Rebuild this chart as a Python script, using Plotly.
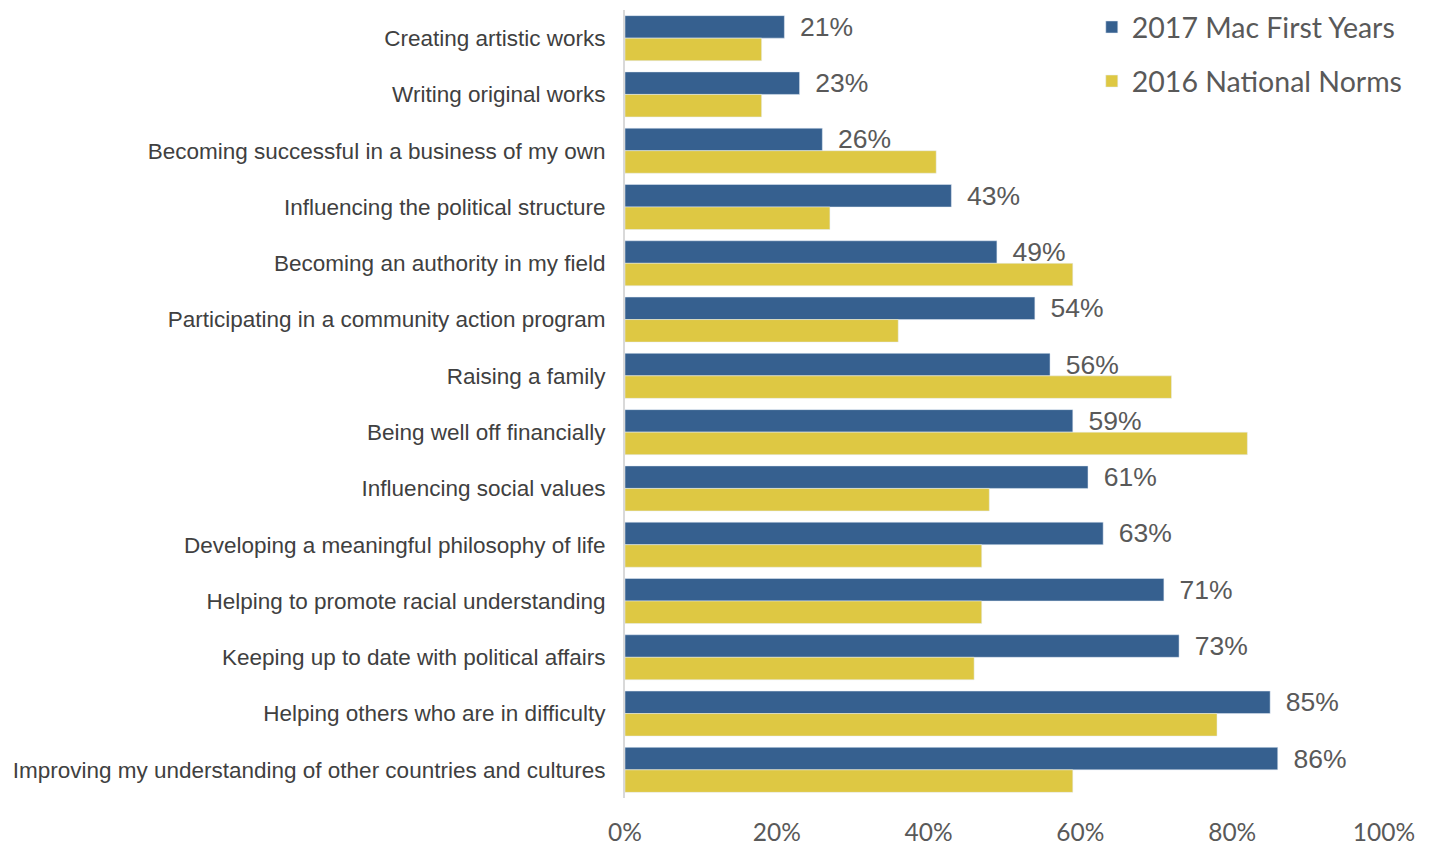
import plotly.graph_objects as go

categorias = [
    "Creating artistic works",
    "Writing original works",
    "Becoming successful in a business of my own",
    "Influencing the political structure",
    "Becoming an authority in my field",
    "Participating in a community action program",
    "Raising a family",
    "Being well off financially",
    "Influencing social values",
    "Developing a meaningful philosophy of life",
    "Helping to promote racial understanding",
    "Keeping up to date with political affairs",
    "Helping others who are in difficulty",
    "Improving my understanding of other countries and cultures",
]
mac_2017 = [21, 23, 26, 43, 49, 54, 56, 59, 61, 63, 71, 73, 85, 86]
normas_2016 = [18, 18, 41, 27, 59, 36, 72, 82, 48, 47, 47, 46, 78, 59]

AZUL = "#36608f"
AMARILLO = "#dec843"
GRIS = "#595959"

fig = go.Figure()
fig.add_trace(go.Bar(
    y=categorias, x=mac_2017, orientation="h", name="2017 Mac First Years",
    marker_color=AZUL, legendgroup="a",
    text=[f" \u2009{v}%" for v in mac_2017], textposition="outside", cliponaxis=False,
    constraintext="none",
    textfont=dict(family="Liberation Sans", size=26.5, color=GRIS),
))
fig.add_trace(go.Bar(
    y=categorias, x=normas_2016, orientation="h", name="2016 National Norms",
    marker_color=AMARILLO, legendgroup="b",
))

# la pagina tiene 8px de margen en body, por eso l/t son algo menores
fig.update_layout(
    width=1432, height=846,
    margin=dict(l=617, r=56, t=2, b=56, autoexpand=False),
    barmode="group", bargap=0.2, bargroupgap=0,
    plot_bgcolor="white", paper_bgcolor="white",
    showlegend=True,
    legend=dict(
        x=0.615, y=1.0102, xanchor="left", yanchor="top",
        font=dict(family="Lato", size=28.5, color=GRIS),
        tracegroupgap=14, bgcolor="rgba(0,0,0,0)",
    ),
)
fig.update_xaxes(
    range=[0, 100], dtick=20, ticksuffix="%", showgrid=False, zeroline=False,
    automargin=False,
    ticks="outside", ticklen=13, tickcolor="white",
    tickfont=dict(family="Lato", size=24.5, color=GRIS),
)
fig.update_yaxes(
    autorange="reversed", showgrid=False, showline=True, linecolor="#d9d9d9", linewidth=2,
    automargin=False,
    ticks="outside", ticklen=13, tickcolor="white",
    tickfont=dict(family="Liberation Sans", size=22.5, color="#404040"),
)

fig.write_html("out.html")
